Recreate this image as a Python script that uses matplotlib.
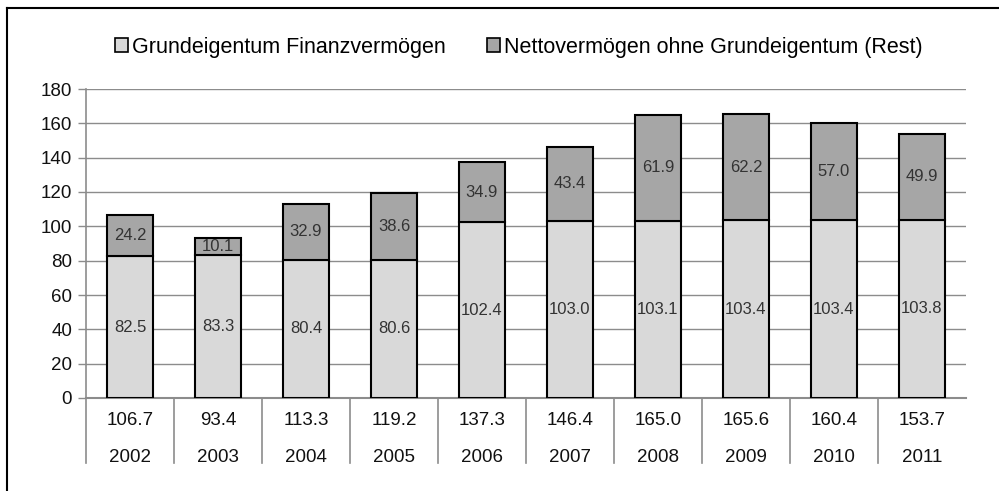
import matplotlib
matplotlib.use("Agg")
import matplotlib.pyplot as plt
from matplotlib.patches import Patch
from matplotlib.lines import Line2D
import matplotlib.transforms as mtrans

plt.rcParams['font.family'] = ['Liberation Sans', 'DejaVu Sans']

years = ['2002', '2003', '2004', '2005', '2006', '2007', '2008', '2009', '2010', '2011']
grund = [82.5, 83.3, 80.4, 80.6, 102.4, 103.0, 103.1, 103.4, 103.4, 103.8]
rest = [24.2, 10.1, 32.9, 38.6, 34.9, 43.4, 61.9, 62.2, 57.0, 49.9]
totals = ['106.7', '93.4', '113.3', '119.2', '137.3', '146.4', '165.0', '165.6', '160.4', '153.7']
series_names = ['Grundeigentum Finanzvermögen', 'Nettovermögen ohne Grundeigentum (Rest)']

light = '#d9d9d9'
dark = '#a6a6a6'
grid = '#8c8c8c'

fig = plt.figure(figsize=(9.99, 4.91), dpi=100)
ax = fig.add_axes([86 / 999, 93 / 491, 880 / 999, 309 / 491])

x = list(range(len(years)))
w = 0.53
ax.bar(x, grund, width=w, color=light, edgecolor='black', linewidth=1.5, zorder=3)
ax.bar(x, rest, width=w, bottom=grund, color=dark, edgecolor='black', linewidth=1.5, zorder=3)

for i in x:
    ax.text(i, grund[i] / 2, f'{grund[i]:.1f}', ha='center', va='center',
            fontsize=12, color='#333333', zorder=4)
    ax.text(i, grund[i] + rest[i] / 2, f'{rest[i]:.1f}', ha='center', va='center',
            fontsize=12, color='#333333', zorder=4)

ax.set_xlim(-0.5, len(years) - 0.5)
ax.set_ylim(0, 180)
ax.set_yticks(range(0, 181, 20))
ax.yaxis.grid(True, color=grid, linewidth=1, zorder=0)
ax.set_xticks([])
for s in ['top', 'right']:
    ax.spines[s].set_visible(False)
ax.spines['left'].set_color(grid)
ax.spines['bottom'].set_color(grid)
ax.spines['left'].set_linewidth(1.2)
ax.spines['bottom'].set_linewidth(1.5)
ax.tick_params(axis='y', colors=grid, length=6, width=1, labelsize=13.5, labelcolor='#111111', pad=4)

# data table below the axis
tr = mtrans.blended_transform_factory(ax.transData, ax.transAxes)
for i in x:
    ax.text(i, -0.074, totals[i], transform=tr, ha='center', va='center',
            fontsize=13.5, color='#111111', clip_on=False)
    ax.text(i, -0.192, years[i], transform=tr, ha='center', va='center',
            fontsize=13.5, color='#111111', clip_on=False)
for i in range(len(years)):
    ax.add_line(Line2D([i - 0.5, i - 0.5], [0, -0.21], transform=tr, color=grid,
                       linewidth=1.2, clip_on=False))

handles = [Patch(facecolor=light, edgecolor='black', linewidth=1.2),
           Patch(facecolor=dark, edgecolor='black', linewidth=1.2)]
fig.legend(handles, series_names, loc='center', bbox_to_anchor=(519 / 999, 1 - 47 / 491),
           ncol=2, frameon=False, fontsize=15.5, handlelength=0.6, handleheight=0.6,
           handletextpad=0.2, columnspacing=1.9)

# outer frame (only left and top edges visible)
fig.add_artist(Line2D([7 / 999, 7 / 999], [0, 1 - 8 / 491], transform=fig.transFigure,
                      color='black', linewidth=1.5))
fig.add_artist(Line2D([7 / 999, 1], [1 - 8 / 491, 1 - 8 / 491], transform=fig.transFigure,
                      color='black', linewidth=1.5))

fig.savefig('out.png', dpi=100)
